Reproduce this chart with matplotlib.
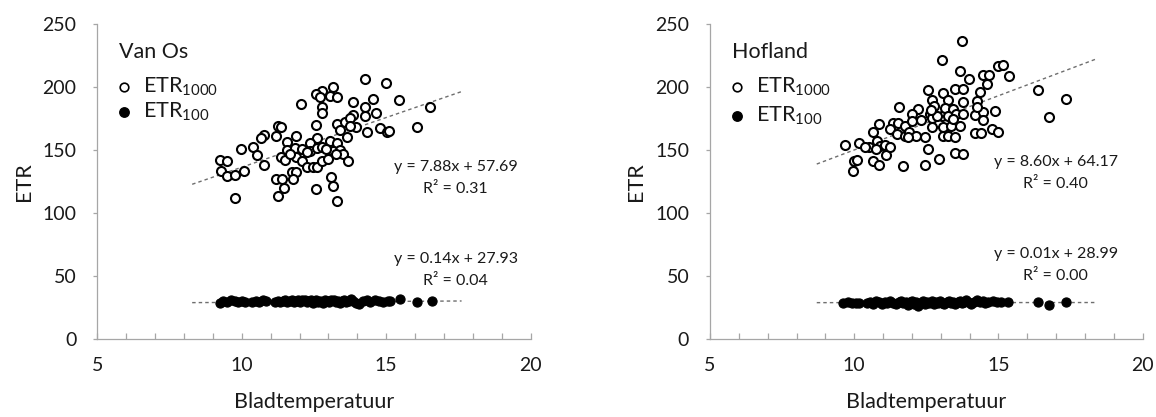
import matplotlib
matplotlib.use("Agg")
import matplotlib.pyplot as plt
from matplotlib.ticker import MultipleLocator

plt.rcParams["font.family"] = ["Lato", "DejaVu Sans"]
plt.rcParams["mathtext.default"] = "regular"

# ---- data: Van Os ----
vanos_etr1000_x = [14.26, 14.99, 13.16, 12.76, 12.56, 13.05, 13.28, 12.70, 12.04, 13.86,
                   14.55, 15.45, 14.26, 12.76, 12.76, 14.66, 16.53, 13.86, 14.26, 12.56,
                   13.28, 13.57, 13.76, 13.97, 13.39, 13.74, 14.35, 14.78, 15.01, 15.10,
                   16.05, 11.24, 11.35, 11.20, 10.76, 10.65, 11.89, 11.57, 12.59, 12.36,
                   13.05, 13.30, 13.65, 9.97, 10.39, 10.51, 11.55, 11.84, 12.07, 12.36,
                   12.59, 12.76, 13.16, 13.39, 13.51, 13.68, 9.24, 9.47, 9.28, 9.49,
                   9.78, 10.08, 10.78, 11.35, 11.49, 11.89, 12.07, 12.27, 12.47, 12.59,
                   12.76, 12.99, 13.26, 11.72, 11.89, 11.20, 11.38, 11.78, 13.08, 11.47,
                   13.16, 12.56, 11.24, 9.76, 13.28, 12.24, 11.66, 12.93]
vanos_etr1000_y = [206.3, 203.1, 199.7, 197.0, 194.4, 193.1, 191.8, 191.8, 186.5, 187.8,
                   190.4, 189.7, 184.4, 183.9, 179.4, 179.4, 183.9, 178.1, 177.3, 169.9,
                   170.7, 172.0, 175.4, 168.1, 165.9, 169.4, 164.6, 167.2, 164.6, 165.4,
                   168.1, 169.4, 168.1, 161.5, 162.3, 159.6, 161.5, 156.7, 159.4, 155.4,
                   157.5, 155.4, 160.7, 150.9, 152.2, 146.4, 150.1, 151.7, 150.9, 149.6,
                   151.4, 152.8, 149.6, 150.1, 147.0, 141.7, 142.5, 141.7, 133.8, 129.3,
                   130.4, 133.3, 138.5, 144.3, 142.2, 144.3, 141.2, 137.0, 136.4, 137.0,
                   141.7, 143.0, 147.0, 132.5, 133.0, 127.2, 127.2, 127.2, 128.5, 120.1,
                   121.2, 119.3, 113.5, 111.9, 109.5, 148.3, 147.0, 150.9]

vanos_etr100_x = [9.24, 9.35, 9.50, 9.62, 9.75, 9.88, 10.00, 10.12, 10.36, 10.48,
                  10.60, 10.72, 10.84, 11.16, 11.25, 11.33, 11.42, 11.50, 11.58, 11.66,
                  11.74, 11.80, 11.88, 11.95, 12.02, 12.10, 12.18, 12.25, 12.30, 12.38,
                  12.45, 12.52, 12.58, 12.65, 12.72, 12.80, 12.88, 12.95, 13.02, 13.10,
                  13.18, 13.25, 13.32, 13.40, 13.48, 13.55, 13.62, 13.70, 13.78, 13.85,
                  13.95, 14.05, 14.20, 14.35, 14.45, 14.60, 14.75, 14.90, 15.05, 15.13,
                  15.47, 16.07, 16.57]
vanos_etr100_y = [28.6, 30.2, 29.5, 30.8, 30.1, 29.4, 30.5, 29.8, 29.2, 30.3,
                  29.6, 30.9, 30.2, 29.3, 30.6, 29.8, 30.4, 31.0, 29.5, 30.7,
                  31.2, 29.9, 30.4, 31.3, 29.7, 30.8, 31.5, 29.2, 30.1, 31.0,
                  28.7, 30.5, 31.4, 29.9, 30.6, 29.1, 31.1, 30.3, 29.6, 30.9,
                  31.3, 29.8, 30.4, 28.9, 30.7, 31.2, 29.4, 30.0, 31.6, 30.2,
                  29.0, 28.1, 30.5, 30.8, 29.7, 30.9, 30.1, 29.8, 30.4, 30.0,
                  31.6, 29.3, 30.3]

# ---- data: Hofland ----
hof_etr1000_x = [13.75, 13.05, 13.67, 13.98, 14.99, 15.17, 14.45, 14.67, 14.59, 15.36,
                 12.57, 13.06, 13.49, 13.78, 14.36, 16.36, 17.34, 16.75, 12.68, 13.26,
                 13.76, 12.76, 14.24, 11.56, 12.22, 11.99, 12.63, 13.03, 13.15, 13.43,
                 14.19, 14.45, 14.88, 14.24, 11.35, 11.53, 11.76, 11.99, 12.31, 12.68,
                 12.86, 13.26, 13.53, 10.87, 10.66, 11.24, 11.47, 11.76, 11.91, 12.14,
                 12.45, 12.68, 13.09, 13.34, 13.67, 14.45, 14.76, 14.99, 14.19, 14.38,
                 13.06, 13.26, 13.49, 9.68, 10.17, 10.52, 10.78, 10.89, 11.07, 10.75,
                 11.09, 10.66, 10.87, 9.99, 10.08, 9.95, 11.68, 12.45, 12.95, 13.49,
                 13.76, 12.57, 11.87, 11.24, 10.37, 12.65, 13.78, 13.43]
hof_etr1000_y = [236.6, 221.3, 212.9, 206.3, 216.8, 217.6, 209.7, 209.7, 202.3, 208.9,
                 197.8, 195.7, 198.4, 198.4, 196.5, 197.8, 190.5, 176.5, 189.9, 189.9,
                 187.8, 185.2, 188.6, 184.6, 182.5, 178.6, 178.6, 177.3, 183.3, 182.5,
                 178.1, 179.9, 181.2, 183.9, 171.2, 171.2, 169.4, 173.3, 173.8, 175.2,
                 177.3, 177.3, 178.6, 170.7, 164.1, 166.7, 162.8, 160.9, 164.1, 161.5,
                 160.1, 168.1, 168.6, 169.4, 169.4, 173.8, 166.7, 164.1, 163.6, 163.6,
                 161.5, 161.5, 160.1, 154.3, 155.4, 152.8, 157.5, 153.5, 154.3, 150.9,
                 146.4, 141.7, 138.5, 141.7, 142.2, 133.3, 137.7, 138.5, 143.0, 147.5,
                 147.0, 150.9, 160.1, 152.2, 152.2, 182.0, 178.6, 174.6]

hof_etr100_x = [9.62, 9.80, 9.92, 10.05, 10.18, 10.45, 10.55, 10.65, 10.75, 10.85,
                10.95, 11.05, 11.15, 11.25, 11.35, 11.45, 11.55, 11.62, 11.70, 11.78,
                11.85, 11.92, 12.00, 12.08, 12.15, 12.22, 12.30, 12.38, 12.45, 12.52,
                12.60, 12.68, 12.75, 12.82, 12.90, 12.98, 13.05, 13.12, 13.20, 13.28,
                13.35, 13.42, 13.50, 13.58, 13.65, 13.72, 13.80, 13.88, 13.95, 14.05,
                14.15, 14.25, 14.35, 14.45, 14.55, 14.65, 14.80, 14.95, 15.10, 15.34,
                16.36, 16.76, 17.34]
hof_etr100_y = [29.0, 29.2, 28.8, 29.1, 29.0, 28.6, 29.8, 28.3, 30.1, 29.4,
                28.0, 29.9, 28.7, 30.3, 29.1, 27.9, 29.6, 30.4, 28.5, 29.2,
                27.6, 29.8, 30.2, 28.4, 29.5, 26.8, 29.0, 30.1, 28.2, 29.7,
                28.9, 30.3, 27.8, 29.4, 28.6, 30.0, 29.1, 28.3, 29.8, 30.4,
                28.7, 29.3, 27.9, 29.9, 30.5, 28.6, 29.2, 30.8, 29.5, 28.4,
                29.9, 31.0, 29.3, 30.2, 28.8, 29.6, 30.1, 29.2, 29.7, 29.4,
                29.6, 27.4, 29.8]

# trend lines (slope, intercept, R²) as printed on the chart
vanos_fit1000 = (7.88, 57.69, 0.31)
vanos_fit100 = (0.14, 27.93, 0.04)
hof_fit1000 = (8.60, 64.17, 0.40)
hof_fit100 = (0.01, 28.99, 0.00)

TXT = "#1A1A1A"
AXC = "#A6A6A6"


def style_axes(ax):
    ax.set_xlim(5, 20)
    ax.set_ylim(0, 250)
    ax.spines["top"].set_visible(False)
    ax.spines["right"].set_visible(False)
    for s in ("left", "bottom"):
        ax.spines[s].set_color(AXC)
        ax.spines[s].set_linewidth(0.9)
    ax.xaxis.set_major_locator(MultipleLocator(5))
    ax.xaxis.set_minor_locator(MultipleLocator(1))
    ax.yaxis.set_major_locator(MultipleLocator(50))
    ax.tick_params(axis="x", which="both", direction="in", length=4.5, width=0.9,
                   color=AXC, pad=13, labelsize=14, labelcolor=TXT)
    ax.tick_params(axis="y", which="major", direction="out", length=3, width=0.9,
                   color=AXC, pad=12, labelsize=14, labelcolor=TXT)
    ax.set_xlabel("Bladtemperatuur", fontsize=15.5, color=TXT)
    ax.set_ylabel("ETR", fontsize=15.5, color=TXT)
    ax.xaxis.set_label_coords(0.5, -0.168)
    ax.yaxis.set_label_coords(-0.147, 0.5)


def panel(ax, title, x1000, y1000, x100, y100, fit1000, fit100, xr, eq_x, eq_y1000, eq_y100,
          leg_y):
    style_axes(ax)
    for (m, b, r2), ey in ((fit1000, eq_y1000), (fit100, eq_y100)):
        ax.plot(xr, [m * xr[0] + b, m * xr[1] + b], color="#6E6E6E", lw=1.0,
                dashes=(2.5, 2.2), zorder=1)
        ax.text(eq_x, ey, f"y = {m:.2f}x + {b:.2f}", ha="center", va="center",
                fontsize=11.5, color=TXT)
        ax.text(eq_x, ey - 17.5, f"R² = {r2:.2f}", ha="center", va="center",
                fontsize=11.5, color=TXT)
    ax.plot(x1000, y1000, "o", ms=6.5, mfc="white", mec="black", mew=1.5,
            linestyle="none", zorder=3)
    ax.plot(x100, y100, "o", ms=6.6, mfc="black", mec="black", mew=0.8,
            linestyle="none", zorder=3)

    # manual legend
    ax.text(0.05, 0.91, title, transform=ax.transAxes, ha="left", va="center",
            fontsize=15.5, color=TXT)
    ax.plot([0.062], [leg_y[0]], "o", ms=6.2, mfc="white", mec="black", mew=1.2,
            transform=ax.transAxes, clip_on=False)
    ax.plot([0.062], [leg_y[1]], "o", ms=6.8, mfc="black", mec="black",
            transform=ax.transAxes, clip_on=False)
    ax.text(0.106, leg_y[0], "ETR$_{1000}$", transform=ax.transAxes, ha="left",
            va="center", fontsize=15.5, color=TXT)
    ax.text(0.106, leg_y[1], "ETR$_{100}$", transform=ax.transAxes, ha="left",
            va="center", fontsize=15.5, color=TXT)


fig = plt.figure(figsize=(11.56, 4.17), dpi=100)
ax1 = fig.add_axes([0.0843, 0.1863, 0.3747, 0.756])
ax2 = fig.add_axes([0.6142, 0.1863, 0.3743, 0.756])

panel(ax1, "Van Os", vanos_etr1000_x, vanos_etr1000_y, vanos_etr100_x, vanos_etr100_y,
      vanos_fit1000, vanos_fit100, (8.28, 17.61), 17.4, 136.8, 63.8, (0.800, 0.72))
panel(ax2, "Hofland", hof_etr1000_x, hof_etr1000_y, hof_etr100_x, hof_etr100_y,
      hof_fit1000, hof_fit100, (8.70, 18.40), 16.99, 140.4, 67.8, (0.800, 0.708))

fig.savefig("out.png", dpi=100, facecolor="white")
